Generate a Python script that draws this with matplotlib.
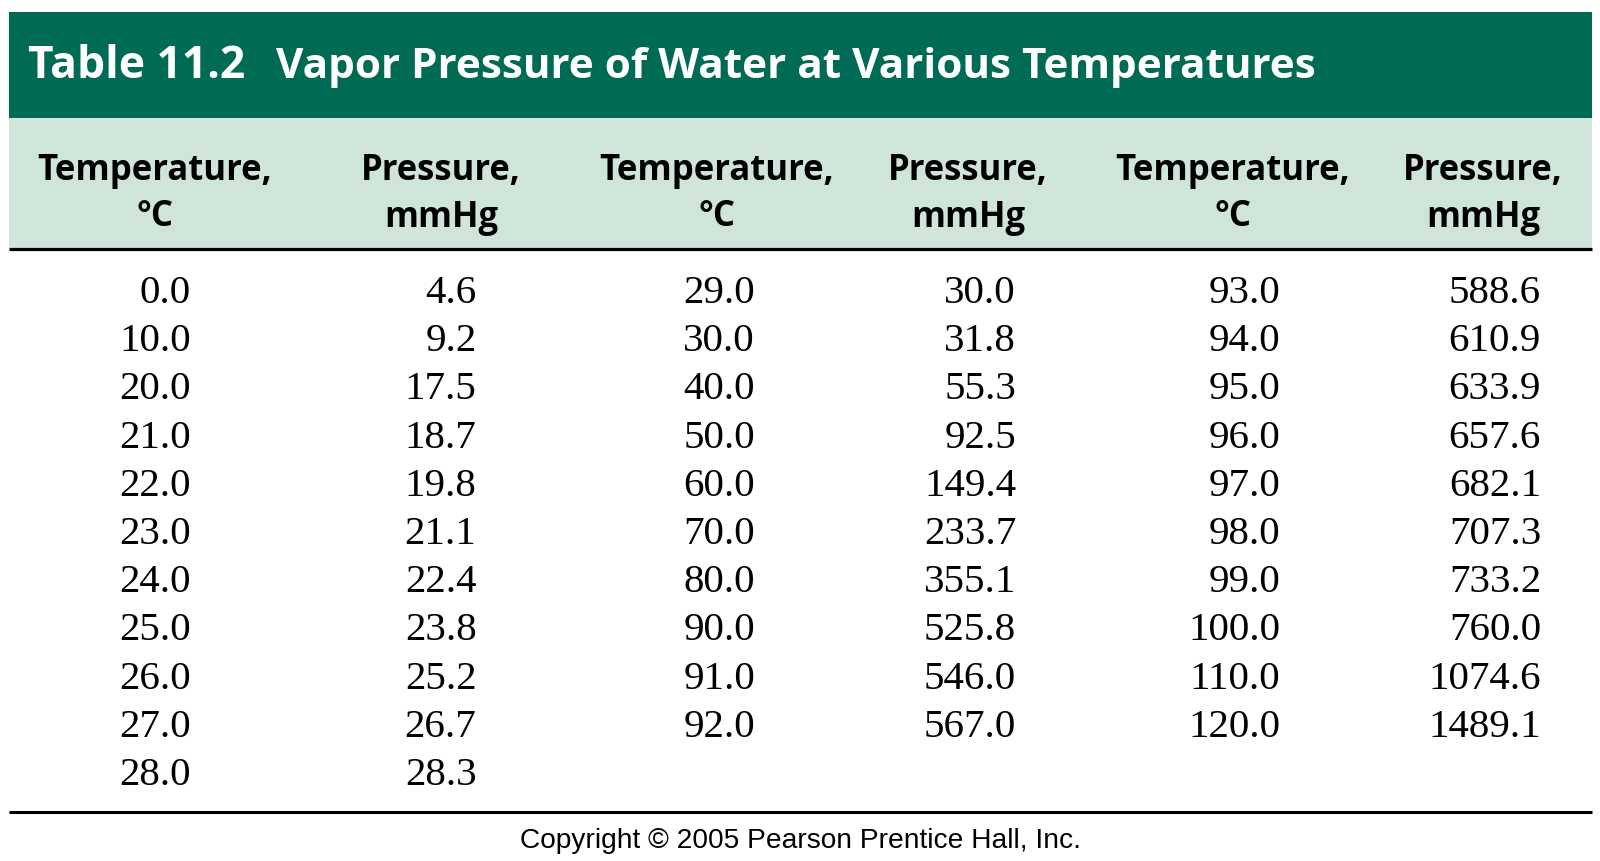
import matplotlib
matplotlib.use("Agg")
import matplotlib.pyplot as plt
from matplotlib.patches import Rectangle

# ---------------- data ----------------
title_num = "Table 11.2"
title_text = "Vapor Pressure of Water at Various Temperatures"
header_temp = ["Temperature,", "°C"]
header_press = ["Pressure,", "mmHg"]
temp_a = [0.0, 10.0, 20.0, 21.0, 22.0, 23.0, 24.0, 25.0, 26.0, 27.0, 28.0]
press_a = [4.6, 9.2, 17.5, 18.7, 19.8, 21.1, 22.4, 23.8, 25.2, 26.7, 28.3]
temp_b = [29.0, 30.0, 40.0, 50.0, 60.0, 70.0, 80.0, 90.0, 91.0, 92.0]
press_b = [30.0, 31.8, 55.3, 92.5, 149.4, 233.7, 355.1, 525.8, 546.0, 567.0]
temp_c = [93.0, 94.0, 95.0, 96.0, 97.0, 98.0, 99.0, 100.0, 110.0, 120.0]
press_c = [588.6, 610.9, 633.9, 657.6, 682.1, 707.3, 733.2, 760.0, 1074.6, 1489.1]
copyright_text = "Copyright © 2005 Pearson Prentice Hall, Inc."

W, H = 1600, 861
fig = plt.figure(figsize=(W / 100, H / 100), dpi=100)
ax = fig.add_axes([0, 0, 1, 1])
ax.set_xlim(0, W)
ax.set_ylim(H, 0)
ax.axis("off")
fig.canvas.draw()
renderer = fig.canvas.get_renderer()

def fit_text(x, y, s, target_w, ha="left", va="baseline", size0=30, **kw):
    t = ax.text(x, y, s, fontsize=size0, ha=ha, va=va, **kw)
    bb = t.get_window_extent(renderer=renderer)
    t.set_fontsize(size0 * target_w / bb.width)
    return t

DARK = "#006B55"
LIGHT = "#D0E5D9"
sans_b = dict(family=["Open Sans", "DejaVu Sans"], fontweight="bold")

# bands and rules
ax.add_patch(Rectangle((9, 12), 1583, 106, color=DARK, lw=0, zorder=0))
ax.add_patch(Rectangle((9, 118), 1583, 130, color=LIGHT, lw=0, zorder=0))
ax.plot([9, 1592], [249, 249], color="black", lw=2.3, solid_capstyle="butt")
ax.plot([9, 1592], [812, 812], color="black", lw=2.2, solid_capstyle="butt")

# title
fit_text(27.5, 78.5, title_num, 217, color="white", **sans_b)
fit_text(275.5, 78.5, title_text, 1041, color="white", **sans_b)

# headers
hdr_x = [155, 441, 717, 968, 1233, 1483]
for i, cx in enumerate(hdr_x):
    lines = header_temp if i % 2 == 0 else header_press
    w1 = 235 if i % 2 == 0 else 160
    t1 = fit_text(cx, 180, lines[0], w1, ha="center", **sans_b)
    ax.text(cx, 226.5, lines[1], fontsize=t1.get_fontsize(), ha="center",
            va="baseline", **sans_b)

# numbers
right_x = [191, 476.5, 755, 1016, 1280, 1541]
cols = [temp_a, press_a, temp_b, press_b, temp_c, press_c]
y0, dy = 303, 48.2
serif = dict(family=["Liberation Serif", "DejaVu Serif"])
for rx, vals in zip(right_x, cols):
    for j, v in enumerate(vals):
        ax.text(rx, y0 + j * dy, f"{v:.1f}", fontsize=29.5, ha="right",
                va="baseline", **serif)

# copyright
fit_text(801, 848, copyright_text, 559, ha="center",
         family=["Liberation Sans", "DejaVu Sans"])

fig.savefig("out.png", dpi=100)
